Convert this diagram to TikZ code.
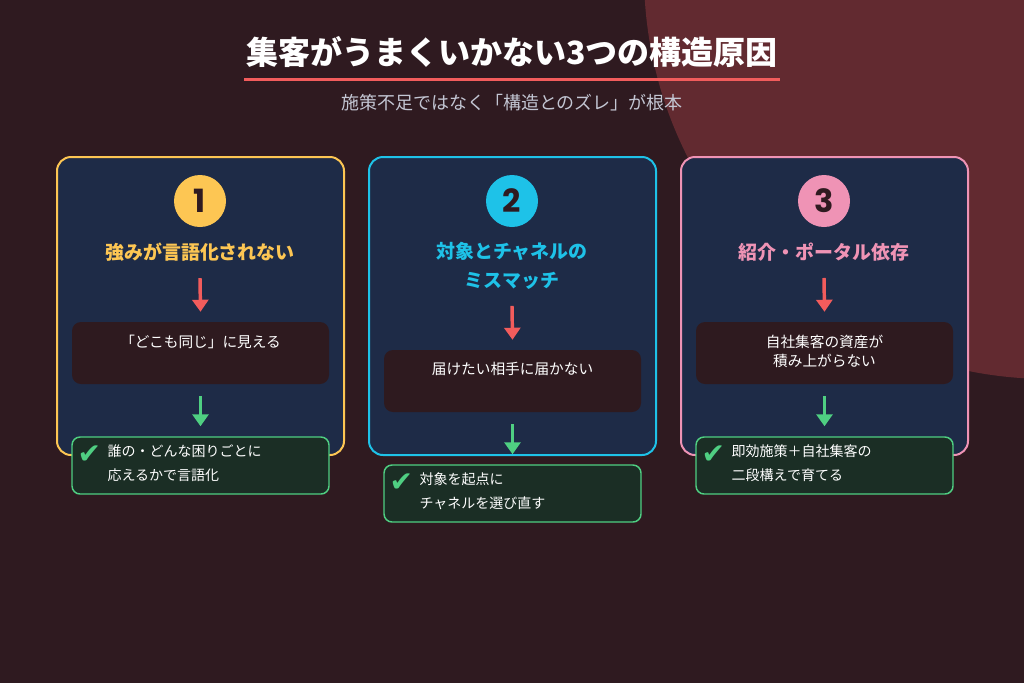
\documentclass[tikz,border=0pt]{standalone}
\usepackage{fontspec}
\setmainfont{Noto Sans CJK JP}
\newfontfamily\numfont{Poppins}
\newfontfamily\symfont{DejaVu Sans}
\usetikzlibrary{arrows.meta}
\usetikzlibrary{calc}
\definecolor{bgdark}{HTML}{2F1A20}
\definecolor{bgblob}{HTML}{622A30}
\definecolor{navy}{HTML}{1E2B47}
\definecolor{boxdark}{HTML}{2E1A1F}
\definecolor{fixfill}{HTML}{1B2E25}
\definecolor{okgreen}{HTML}{4FCF82}
\definecolor{cyellow}{HTML}{FDC653}
\definecolor{ccyan}{HTML}{1EC2E8}
\definecolor{cpink}{HTML}{EF93B5}
\definecolor{alertred}{HTML}{F25C5C}
\definecolor{subgrey}{HTML}{C3C6D3}
\tikzstyle{card} = [%
					rectangle, 
					fill = navy, 
					line width = 1.5pt, 
					rounded corners = 10.5pt,
					minimum width = 215.25pt, minimum height = 223.5pt]
\tikzstyle{badge} = [%
					circle, 
					minimum size = 39pt, inner sep = 0pt,
					font = \numfont\bfseries\fontsize{24}{24}\selectfont, 
					text = bgdark]
\tikzstyle{cardtitle} = [%
					inner sep = 0pt, align = center,
					font = \bfseries\fontsize{14.2}{21.75}\selectfont]
\tikzstyle{probbox} = [%
					rectangle, 
					fill = boxdark, 
					rounded corners = 6.75pt,
					minimum width = 192.75pt, minimum height = 46.5pt]
\tikzstyle{probtext} = [%
					inner sep = 0pt, anchor = north, align = center, text = white,
					font = \fontsize{11}{14.25}\selectfont]
\tikzstyle{fixbox} = [%
					rectangle, 
					fill = fixfill, draw = okgreen, 
					line width = 1.1pt,
					rounded corners = 6pt,
					minimum width = 192.75pt, minimum height = 42.75pt]
\tikzstyle{fixtext} = [%
					inner sep = 0pt, anchor = north west, align = left, text = white,
					font = \fontsize{10.5}{18}\selectfont]
\tikzstyle{tick} = [%
					inner sep = 0pt, text = okgreen,
					font = \symfont\bfseries\fontsize{21}{21}\selectfont]
\tikzstyle{redarrow} = [%
					line width = 2.6pt, 
					color = alertred,
					-{Triangle[length=9pt, width=12pt]}]
\tikzstyle{greenarrow} = [%
					line width = 2.6pt, 
					color = okgreen,
					-{Triangle[length=9pt, width=12pt]}]

\begin{document}
\begin{tikzpicture}[x=0.75pt, y=-0.75pt]
	
	% Background
	\clip (0,0) rectangle (1024,683);
	\fill[bgdark] (0,0) rectangle (1024,683);
	\fill[bgblob] (1049,-26) circle [radius=405];
	
	% Heading
	\node[inner sep=0pt, text=white, font=\bfseries\fontsize{24}{24}\selectfont] (title) at (512,51.5) {集客がうまくいかない3つの構造原因};
	\coordinate (ul1) at (244,79);
	\coordinate (ul2) at (780,79);
	\draw[alertred, line width=2.25pt] (ul1) -- (ul2);
	\node[inner sep=0pt, text=subgrey, font=\fontsize{13.5}{13.5}\selectfont] (subtitle) at (512,102.5) {施策不足ではなく「構造とのズレ」が根本};
	
	% Cards
	\node[card, draw=cyellow] (card1) at (200.5,306) {};
	\node[card, draw=ccyan]   (card2) at (512.5,306) {};
	\node[card, draw=cpink]   (card3) at (824.5,306) {};
	
	%% Badges
	\node[badge, fill=cyellow] (num1) at (200,201) {1};
	\node[badge, fill=ccyan]   (num2) at (512,201) {2};
	\node[badge, fill=cpink]   (num3) at (824,201) {3};
	
	%% Titles
	\node[cardtitle, text=cyellow] (ttl1) at (200,252) {強みが言語化されない};
	\node[cardtitle, text=ccyan]   (ttl2) at (512,265.5) {対象とチャネルの\\ミスマッチ};
	\node[cardtitle, text=cpink]   (ttl3) at (824,252) {紹介・ポータル依存};
	
	%% Problems
	\node[probbox] (prob1) at (200.5,353) {};
	\node[probtext] (prob1t) at ([yshift=-9.5pt]prob1.north) {「どこも同じ」に見える};
	\node[probbox] (prob2) at (512.5,381) {};
	\node[probtext] (prob2t) at ([yshift=-9.5pt]prob2.north) {届けたい相手に届かない};
	\node[probbox] (prob3) at (824.5,353) {};
	\node[probtext] (prob3t) at ([yshift=-9.5pt]prob3.north) {自社集客の資産が\\積み上がらない};
	
	%% Fixes
	\node[fixbox] (fix1) at (200.5,465.5) {};
	\node[tick] (tick1) at ([xshift=13.5pt, yshift=-13.5pt]fix1.north west) {✔};
	\node[fixtext] (fix1t) at ([xshift=27pt, yshift=-6pt]fix1.north west) {誰の・どんな困りごとに\\応えるかで言語化};
	\node[fixbox] (fix2) at (512.5,493.5) {};
	\node[tick] (tick2) at ([xshift=13.5pt, yshift=-13.5pt]fix2.north west) {✔};
	\node[fixtext] (fix2t) at ([xshift=27pt, yshift=-6pt]fix2.north west) {対象を起点に\\チャネルを選び直す};
	\node[fixbox] (fix3) at (824.5,465.5) {};
	\node[tick] (tick3) at ([xshift=13.5pt, yshift=-13.5pt]fix3.north west) {✔};
	\node[fixtext] (fix3t) at ([xshift=27pt, yshift=-6pt]fix3.north west) {即効施策＋自社集客の\\二段構えで育てる};
	
	% Arrows
	\draw[redarrow] ([yshift=-12.4pt]ttl1.south) -- ([yshift=7.5pt]prob1.north);
	\draw[redarrow] ([yshift=-12.4pt]ttl2.south) -- ([yshift=7.5pt]prob2.north);
	\draw[redarrow] ([yshift=-12.4pt]ttl3.south) -- ([yshift=7.5pt]prob3.north);
	\draw[greenarrow] ([yshift=-9pt]prob1.south) -- ([yshift=7.5pt]fix1.north);
	\draw[greenarrow] ([yshift=-9pt]prob2.south) -- ([yshift=7.5pt]fix2.north);
	\draw[greenarrow] ([yshift=-9pt]prob3.south) -- ([yshift=7.5pt]fix3.north);
\end{tikzpicture}
\end{document}
